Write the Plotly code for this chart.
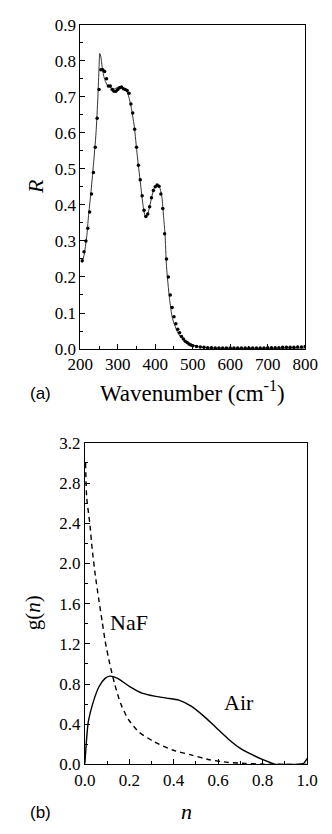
import plotly.graph_objects as go

# ---------- Panel (a) data ----------
exp_w = [205, 210, 215, 220, 225, 230, 235, 240, 245, 250, 255, 260, 265, 270, 275,
         280, 285, 290, 295, 300, 305, 310, 315, 320, 325, 330, 335, 340, 345, 350,
         355, 360, 365, 370, 375, 380, 385, 390, 395, 400, 405, 410, 415, 420, 425,
         430, 435, 440, 445, 450, 455, 460, 465, 470, 475, 480, 485, 490, 495, 500,
         510, 520, 530, 540, 550, 560, 570, 580, 590, 600, 610, 620, 630, 640, 650,
         660, 670, 680, 690, 700, 710, 720, 730, 740, 750, 760, 770, 780, 790, 800]
exp_R = [0.245, 0.27, 0.30, 0.335, 0.38, 0.43, 0.49, 0.56, 0.64, 0.72, 0.775, 0.775, 0.77, 0.75, 0.73,
         0.73, 0.72, 0.715, 0.715, 0.72, 0.725, 0.727, 0.722, 0.72, 0.717, 0.71, 0.68, 0.655, 0.61, 0.56,
         0.51, 0.47, 0.425, 0.385, 0.368, 0.375, 0.395, 0.42, 0.44, 0.45, 0.455, 0.452, 0.43, 0.39, 0.32,
         0.25, 0.20, 0.15, 0.115, 0.09, 0.07, 0.055, 0.045, 0.035, 0.028, 0.022, 0.018, 0.014, 0.011, 0.009,
         0.007, 0.006, 0.005, 0.004, 0.004, 0.003, 0.003, 0.003, 0.003, 0.003, 0.003, 0.003, 0.003, 0.003, 0.003,
         0.003, 0.003, 0.003, 0.003, 0.004, 0.004, 0.004, 0.004, 0.005, 0.005, 0.005, 0.005, 0.006, 0.006, 0.007]

fit_w = [205, 210, 217, 222, 228, 235, 242, 247, 250, 252, 255, 258, 262, 266, 272,
         279, 291, 303, 315, 325, 334, 344, 352, 360, 368, 374, 380, 387, 397, 407,
         413, 418, 422, 426, 430, 438, 446, 463, 488, 512, 550, 600, 700, 800]
fit_R = [0.24, 0.26, 0.31, 0.37, 0.43, 0.51, 0.60, 0.70, 0.78, 0.82, 0.81, 0.785, 0.76, 0.745, 0.732,
         0.726, 0.722, 0.727, 0.722, 0.713, 0.68, 0.618, 0.537, 0.464, 0.395, 0.366, 0.375, 0.405, 0.446, 0.457,
         0.445, 0.42, 0.37, 0.32, 0.23, 0.14, 0.085, 0.04, 0.017, 0.008, 0.003, 0.002, 0.002, 0.003]

# ---------- Panel (b) data ----------
air_n = [0.0, 0.015, 0.036, 0.064, 0.091, 0.112, 0.147, 0.202, 0.257, 0.313, 0.368, 0.423,
         0.478, 0.534, 0.589, 0.644, 0.70, 0.755, 0.81, 0.86, 0.90, 0.95, 0.985, 1.0]
air_g = [0.01, 0.42, 0.61, 0.775, 0.856, 0.878, 0.856, 0.775, 0.71, 0.68, 0.66, 0.64,
         0.58, 0.483, 0.37, 0.256, 0.159, 0.094, 0.039, 0.0, 0.0, 0.0, 0.01, 0.06]

naf_n = [0.003, 0.008, 0.022, 0.033, 0.047, 0.064, 0.078, 0.091, 0.112, 0.133, 0.16, 0.195,
         0.244, 0.313, 0.395, 0.478, 0.561, 0.644, 0.72, 0.80, 0.90, 1.0]
naf_g = [3.0, 2.66, 2.40, 2.14, 1.88, 1.62, 1.42, 1.23, 1.0, 0.81, 0.61, 0.45,
         0.32, 0.224, 0.143, 0.094, 0.046, 0.02, 0.01, 0.003, 0.0, 0.0]

W, H = 332, 834
serif = "Liberation Serif, Times New Roman, serif"
sans = "Liberation Sans, Arial, sans-serif"

fig = go.Figure()
fig.add_trace(go.Scatter(x=fit_w, y=fit_R, mode="lines", line=dict(color="#333", width=1, shape="spline", smoothing=0.6),
                         xaxis="x", yaxis="y", showlegend=False))
fig.add_trace(go.Scatter(x=exp_w, y=exp_R, mode="markers", marker=dict(color="black", size=3.5),
                         xaxis="x", yaxis="y", showlegend=False))
fig.add_trace(go.Scatter(x=air_n, y=air_g, mode="lines", line=dict(color="black", width=1.4, shape="spline", smoothing=0.6),
                         xaxis="x2", yaxis="y2", showlegend=False))
fig.add_trace(go.Scatter(x=naf_n, y=naf_g, mode="lines", line=dict(color="black", width=1.4, dash="5px,4px", shape="spline", smoothing=0.6),
                         xaxis="x2", yaxis="y2", showlegend=False))

def px_x(p):
    return p / W

def px_y(p):
    return 1 - p / H

axis_common = dict(showline=True, linecolor="black", linewidth=1, mirror=True, ticks="inside",
                   ticklen=5, tickwidth=1, tickcolor="black", showgrid=False, zeroline=False,
                   tickfont=dict(family=serif, size=17, color="black"))

fig.update_layout(
    width=W, height=H, margin=dict(l=0, r=0, t=0, b=0),
    paper_bgcolor="white", plot_bgcolor="white",
    font=dict(family=serif, color="black"),
    xaxis=dict(domain=[px_x(73), px_x(317)], range=[200, 800], dtick=100, tick0=200, anchor="y",
               minor=dict(ticks="inside", ticklen=3, dtick=50, tickcolor="black"), **axis_common),
    yaxis=dict(domain=[px_y(348), px_y(16)], range=[0, 0.9], dtick=0.1, tickformat=".1f", anchor="x",
               minor=dict(ticks="inside", ticklen=3, dtick=0.05, tickcolor="black"), **axis_common),
    xaxis2=dict(domain=[px_x(78), px_x(319)], range=[0, 1.0], dtick=0.2, tickformat=".1f", anchor="y2",
                minor=dict(ticks="inside", ticklen=3, dtick=0.1, tickcolor="black"), **axis_common),
    yaxis2=dict(domain=[px_y(773), px_y(444)], range=[0, 3.2], dtick=0.4, tickformat=".1f", anchor="x2",
                minor=dict(ticks="inside", ticklen=3, dtick=0.2, tickcolor="black"), **axis_common),
)

ann = [
    dict(text="Wavenumber (cm<sup>-1</sup>)", x=px_x(195), y=px_y(391), font=dict(family=serif, size=23)),
    dict(text="(a)", x=px_x(30), y=px_y(393), font=dict(family=sans, size=17)),
    dict(text="<i>R</i>", x=px_x(25), y=px_y(182), font=dict(family=serif, size=22), textangle=-90),
    dict(text="<i>n</i>", x=px_x(188), y=px_y(821), font=dict(family=serif, size=22)),
    dict(text="(b)", x=px_x(30), y=px_y(822), font=dict(family=sans, size=17)),
    dict(text="g(<i>n</i>)", x=px_x(22), y=px_y(618), font=dict(family=serif, size=21), textangle=-90),
    dict(text="NaF", x=px_x(126), y=px_y(628), font=dict(family=serif, size=22)),
    dict(text="Air", x=px_x(245), y=px_y(710), font=dict(family=serif, size=22)),
]
for a in ann:
    a.update(xref="paper", yref="paper", showarrow=False, xanchor="center", yanchor="middle")
    a["font"]["color"] = "black"
fig.update_layout(annotations=ann)

fig.write_html("out.html")
